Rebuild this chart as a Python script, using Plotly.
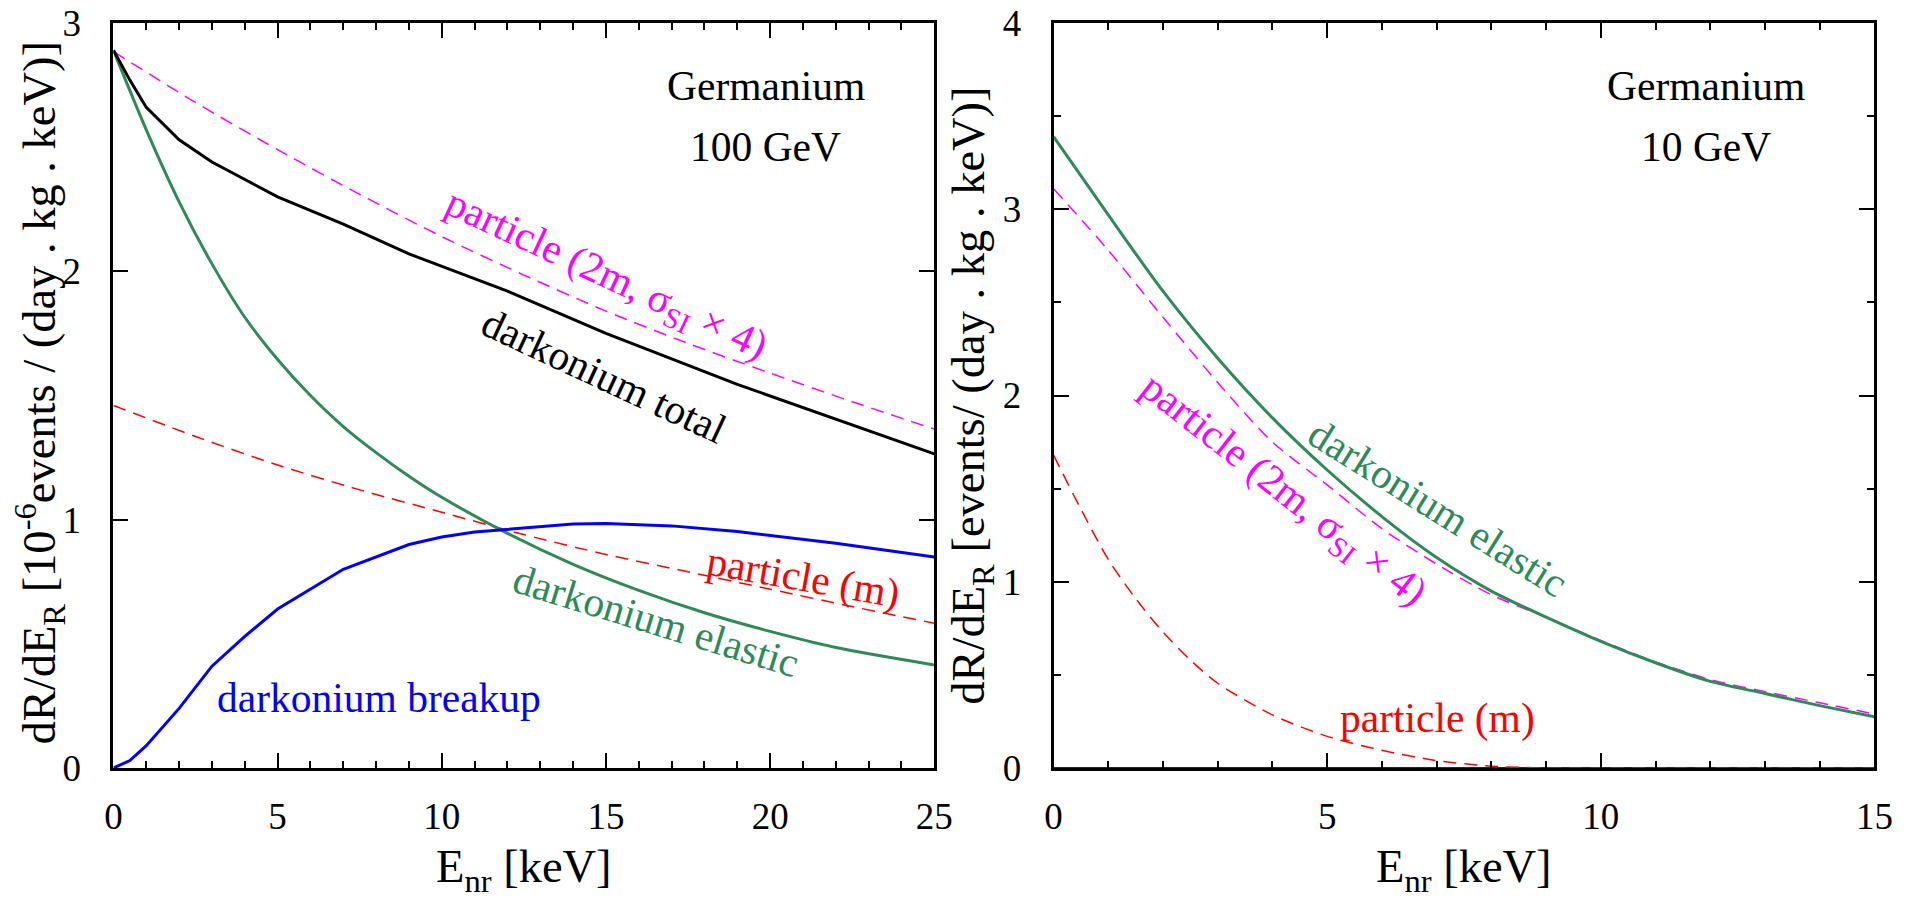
import plotly.graph_objects as go

SERIF = "Liberation Serif, Times New Roman, serif"
GREEN = "#2e8b57"
BLUE = "#0000ff"
RED = "#ff0000"
MAGENTA = "#ff00ff"

# ---------------- Germanium, 100 GeV ----------------
e_total_100 = [0, 0.5, 1, 2, 3, 4, 5, 7, 9, 12, 15, 19, 25]
total_100 = [2.89, 2.77, 2.66, 2.53, 2.44, 2.37, 2.30, 2.19, 2.07, 1.92, 1.75, 1.545, 1.265]

e_elastic_100 = [0, 1, 2, 3, 4, 5, 6, 7, 8, 9, 10, 12, 14, 16, 18, 20, 22, 25]
elastic_100 = [2.89, 2.57, 2.28, 2.03, 1.815, 1.645, 1.50, 1.375, 1.27, 1.175, 1.09,
               0.945, 0.82, 0.715, 0.625, 0.55, 0.485, 0.415]

e_breakup_100 = [0, 0.5, 1, 2, 3, 4, 5, 7, 9, 10, 11, 12, 14, 15, 17, 19, 22, 25]
breakup_100 = [0, 0.03, 0.09, 0.24, 0.41, 0.53, 0.64, 0.80, 0.90, 0.93, 0.95, 0.96,
               0.983, 0.985, 0.975, 0.952, 0.905, 0.85]

e_particle_100 = [0, 2.5, 5, 7.5, 10, 12.5, 15, 17.5, 20, 22.5, 25]
particle_2m_100 = [2.885, 2.68, 2.49, 2.31, 2.14, 1.985, 1.84, 1.71, 1.59, 1.475, 1.365]
particle_m_100 = [1.46, 1.335, 1.22, 1.12, 1.03, 0.94, 0.86, 0.79, 0.72, 0.65, 0.583]

# ---------------- Germanium, 10 GeV ----------------
e_10 = [0, 1, 2, 3, 4, 5, 6, 7, 8, 9, 10, 11, 12, 13, 14, 15]
elastic_10 = [3.39, 2.97, 2.56, 2.20, 1.88, 1.60, 1.35, 1.13, 0.95, 0.81, 0.68,
              0.565, 0.465, 0.40, 0.335, 0.275]
particle_2m_10 = [3.11, 2.78, 2.42, 2.07, 1.75, 1.52, 1.285, 1.095, 0.93, 0.81, 0.685,
                  0.57, 0.475, 0.41, 0.35, 0.29]

e_particle_m_10 = [0, 0.5, 1, 1.5, 2, 2.5, 3, 4, 5, 6, 7, 8, 9, 10, 12, 15]
particle_m_10 = [1.68, 1.39, 1.12, 0.91, 0.73, 0.58, 0.455, 0.285, 0.17, 0.095, 0.04,
                 0.01, 0, 0, 0, 0]

e_breakup_10 = [0, 15]
breakup_10 = [0, 0]

# ---------------- page geometry (pixels) ----------------
W, H = 1920, 901
PLOT_TOP, PLOT_BOTTOM = 23, 768
LEFT_X0, LEFT_X1 = 106, 939
RIGHT_X0, RIGHT_X1 = 1060, 1893


def px(xp):
    return xp / W


def py(yp):
    return (PLOT_BOTTOM - yp) / (PLOT_BOTTOM - PLOT_TOP)


fig = go.Figure()


def curve(x, y, color, width, dash="solid", axes=("x", "y"), shape="linear"):
    fig.add_trace(go.Scatter(
        x=x, y=y, mode="lines",
        line=dict(color=color, width=width, dash=dash, shape=shape, smoothing=0.8),
        xaxis=axes[0], yaxis=axes[1], showlegend=False, hoverinfo="skip",
    ))


DASH = "13px,8px"

# left panel
curve(e_particle_100, particle_2m_100, MAGENTA, 1.5, DASH, shape="spline")
curve(e_particle_100, particle_m_100, RED, 1.5, DASH, shape="spline")
curve(e_elastic_100, elastic_100, GREEN, 3, shape="spline")
curve(e_breakup_100, breakup_100, BLUE, 3)
curve(e_total_100, total_100, "black", 3)

# right panel
R = ("x2", "y2")
curve(e_breakup_10, breakup_10, "#1a1a9a", 2, axes=R)
curve(e_particle_m_10, particle_m_10, RED, 1.5, DASH, axes=R, shape="spline")
curve(e_10, particle_2m_10, MAGENTA, 1.5, DASH, axes=R, shape="spline")
curve(e_10, elastic_10, GREEN, 3, axes=R, shape="spline")

tick_font = dict(family=SERIF, size=37, color="black")
base_axis = dict(
    showline=True, linecolor="black", linewidth=3, mirror="allticks",
    ticks="inside", tickcolor="black", tickwidth=2, ticklen=15,
    showgrid=False, zeroline=False, tickfont=tick_font, fixedrange=True,
)
minor_x = dict(dtick=1, ticklen=7, ticks="inside", tickcolor="black", tickwidth=2, showgrid=False)
minor_y = dict(dtick=0.5, ticklen=7, ticks="inside", tickcolor="black", tickwidth=2, showgrid=False)

fig.update_layout(
    width=W, height=H,
    margin=dict(l=0, r=0, t=PLOT_TOP, b=H - PLOT_BOTTOM, pad=0),
    paper_bgcolor="white", plot_bgcolor="white",
    font=dict(family=SERIF, color="black"),
    xaxis=dict(base_axis, domain=[px(LEFT_X0), px(LEFT_X1)], range=[0, 25], dtick=5,
               tick0=0, minor=minor_x, anchor="y", ticklabelstandoff=14),
    yaxis=dict(base_axis, domain=[0, 1], range=[0, 3], dtick=1, tick0=0,
               anchor="x", ticklabelstandoff=22),
    xaxis2=dict(base_axis, domain=[px(RIGHT_X0), px(RIGHT_X1)], range=[0, 15], dtick=5,
                tick0=0, minor=minor_x, anchor="y2", ticklabelstandoff=14),
    yaxis2=dict(base_axis, domain=[0, 1], range=[0, 4], dtick=1, tick0=0,
                minor=minor_y, anchor="x2", ticklabelstandoff=22),
)


def label(text, xp, yp, color="black", size=41.5, angle=0):
    fig.add_annotation(
        text=text, x=px(xp), y=py(yp), xref="paper", yref="paper",
        xanchor="center", yanchor="middle", showarrow=False, textangle=angle,
        font=dict(family=SERIF, size=size, color=color),
    )


TITLE_SIZE = 46.5
# axis titles
label("E<sub>nr</sub> [keV]", (LEFT_X0 + LEFT_X1) / 2, 870, size=TITLE_SIZE)
label("E<sub>nr</sub> [keV]", (RIGHT_X0 + RIGHT_X1) / 2, 870, size=TITLE_SIZE)
label("dR/dE<sub>R</sub> [10<sup>-6</sup>events / (day . kg . keV)]", 31, 393,
      size=TITLE_SIZE, angle=-90)
label("dR/dE<sub>R</sub> [events/ (day . kg . keV)]", 977, 396, size=TITLE_SIZE, angle=-90)

# left panel text
label("Germanium", 768, 86)
label("100 GeV", 768, 147)
label("particle (2m, σ<sub>SI</sub> × 4)", 605, 276, MAGENTA, angle=25)
label("darkonium total", 604, 376, "black", angle=25)
label("particle (m)", 806, 577, RED, angle=10)
label("darkonium elastic", 657, 621, GREEN, angle=17)
label("darkonium breakup", 375, 698, BLUE)

# right panel text
label("Germanium", 1722, 86)
label("10 GeV", 1722, 147)
label("darkonium elastic", 1450, 508, GREEN, angle=32)
label("particle (2m, σ<sub>SI</sub> × 4)", 1292, 491, MAGENTA, angle=38)
label("particle (m)", 1450, 718, RED)

fig.write_html("out.html", config={"displayModeBar": False})
